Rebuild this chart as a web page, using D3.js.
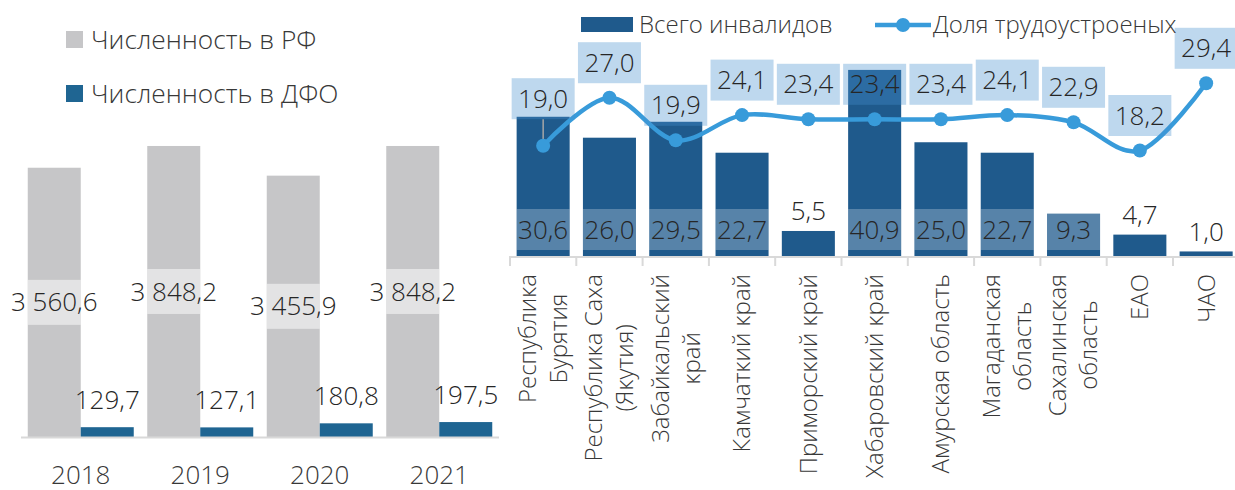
<!DOCTYPE html>
<html><head><meta charset="utf-8">
<script src="https://cdn.jsdelivr.net/npm/d3@7"></script>
<style>
html,body{margin:0;padding:0;background:#fff;}
svg text{font-family:"Open Sans",sans-serif;font-weight:300;}
</style></head>
<body>
<svg id="c" width="1235" height="490"></svg>
<script>
// ---- data ----
const years = ["2018", "2019", "2020", "2021"];
const rfValues = [3560.6, 3848.2, 3455.9, 3848.2];
const dfoValues = [129.7, 127.1, 180.8, 197.5];
const leftSeries = ["Численность в РФ", "Численность в ДФО"];

const regions = ["Республика\nБурятия", "Республика Саха\n(Якутия)", "Забайкальский\nкрай", "Камчаткий край",
  "Приморский край", "Хабаровский край", "Амурская область", "Магаданская\nобласть",
  "Сахалинская\nобласть", "ЕАО", "ЧАО"];
const totalDisabled = [30.6, 26.0, 29.5, 22.7, 5.5, 40.9, 25.0, 22.7, 9.3, 4.7, 1.0];
const employedShare = [19.0, 27.0, 19.9, 24.1, 23.4, 23.4, 23.4, 24.1, 22.9, 18.2, 29.4];
const rightSeries = ["Всего инвалидов", "Доля трудоустроеных"];

// ---- styles ----
const GRAY = "#c6c6c8", DFO = "#1f6592", BAR = "#1f5a8c", LINE = "#389bda";
const TXT = "#383838", VAL = "#262626", AXIS = "#d9d9d9";
const loc = d3.formatLocale({decimal: ",", thousands: " ", grouping: [3], currency: ["", ""]});
const fmt = loc.format(",.1f");

const svg = d3.select("#c");

// ================= LEFT CHART =================
const L = svg.append("g");
const x0 = d3.scaleBand().domain(years).range([21, 499]).paddingInner(0.113).paddingOuter(0.0565);
const x1 = d3.scaleBand().domain(leftSeries).range([0, x0.bandwidth()]);
const yL = d3.scaleLinear().domain([0, 4000]).range([437, 134.5]);

const leftData = years.map((y, i) => ({year: y, vals: [rfValues[i], dfoValues[i]]}));

const grp = L.selectAll(".grp").data(leftData).join("g")
  .attr("transform", d => `translate(${x0(d.year)},0)`);

grp.append("rect").attr("x", x1(leftSeries[0])).attr("width", x1.bandwidth())
  .attr("y", d => yL(d.vals[0])).attr("height", d => yL(0) - yL(d.vals[0])).attr("fill", GRAY);
grp.append("rect").attr("x", x1(leftSeries[1])).attr("width", x1.bandwidth())
  .attr("y", d => yL(d.vals[1])).attr("height", d => yL(0) - yL(d.vals[1])).attr("fill", DFO);

// gray value label boxes
grp.append("rect").attr("x", x1(leftSeries[0])).attr("width", x1.bandwidth())
  .attr("y", d => (yL(d.vals[0]) + yL(0)) / 2 - 22.5).attr("height", 45)
  .attr("fill", "#ffffff").attr("fill-opacity", 0.5);
grp.append("text").attr("x", x1(leftSeries[0]) + x1.bandwidth() / 2)
  .attr("y", d => (yL(d.vals[0]) + yL(0)) / 2).attr("dy", "0.35em")
  .attr("text-anchor", "middle").attr("font-size", 26).attr("fill", VAL)
  .text(d => fmt(d.vals[0]));
grp.append("text").attr("x", x1(leftSeries[1]) + x1.bandwidth() / 2)
  .attr("y", d => yL(d.vals[1]) - 27.5).attr("dy", "0.35em")
  .attr("text-anchor", "middle").attr("font-size", 26).attr("fill", VAL)
  .text(d => fmt(d.vals[1]));

// axis
const axL = L.append("g").attr("transform", `translate(0,${yL(0)})`)
  .call(d3.axisBottom(x0).tickSize(0).tickPadding(29));
axL.select(".domain").attr("stroke", AXIS).attr("stroke-width", 2).attr("d", "M21,0.5H499");
axL.selectAll("text").attr("font-size", 26).attr("fill", TXT).attr("font-family", "Open Sans").attr("font-weight", 300);

// legend
const legL = L.append("g");
leftSeries.forEach((s, i) => {
  const yy = 31 + i * 54;
  legL.append("rect").attr("x", 66).attr("y", yy).attr("width", 17).attr("height", 17)
    .attr("fill", i === 0 ? GRAY : DFO);
  legL.append("text").attr("x", 91).attr("y", yy + 8.5).attr("dy", "0.35em")
    .attr("font-size", 26.3).attr("fill", TXT).text(s);
});

// ================= RIGHT CHART =================
const R = svg.append("g");
const xR = d3.scaleBand().domain(regions).range([510, 1239.3]).paddingInner(0.2).paddingOuter(0.1);
const yR = d3.scaleLinear().domain([0, 45]).range([256, 51.25]);
const yR2 = d3.scaleLinear().domain([0, 35]).range([259.7, 49.7]);
const cx = d => xR(d) + xR.bandwidth() / 2;

const rData = regions.map((r, i) => ({r, v: totalDisabled[i], s: employedShare[i], i}));

// axis line + ticks
const step = xR.step();
const x_start = xR.range()[0];
R.append("line").attr("x1", x_start).attr("x2", 1235).attr("y1", yR(0) + 1).attr("y2", yR(0) + 1)
  .attr("stroke", AXIS).attr("stroke-width", 2);
R.selectAll(".tk").data(d3.range(regions.length + 1)).join("line")
  .attr("x1", i => x_start + i * step).attr("x2", i => x_start + i * step)
  .attr("y1", yR(0)).attr("y2", yR(0) + 10).attr("stroke", AXIS).attr("stroke-width", 2);

// bars
R.selectAll(".bar").data(rData).join("rect")
  .attr("x", d => xR(d.r)).attr("width", xR.bandwidth())
  .attr("y", d => yR(d.v)).attr("height", d => yR(0) - yR(d.v)).attr("fill", BAR);

// bar labels
const big = rData.filter(d => d.v >= 8), small = rData.filter(d => d.v < 8);
R.selectAll(".bbox").data(big).join("rect")
  .attr("x", d => xR(d.r)).attr("width", xR.bandwidth())
  .attr("y", d => Math.max(yR(0) - 47, yR(d.v))).attr("height", d => yR(0) - 6 - Math.max(yR(0) - 47, yR(d.v)))
  .attr("fill", "#ffffff").attr("fill-opacity", 0.25);
R.selectAll(".blab").data(big).join("text")
  .attr("x", d => cx(d.r)).attr("y", yR(0) - 26).attr("dy", "0.35em")
  .attr("text-anchor", "middle").attr("font-size", 26).attr("fill", VAL).text(d => fmt(d.v));
R.selectAll(".slab").data(small).join("text")
  .attr("x", d => cx(d.r)).attr("y", d => yR(d.v) - 20).attr("dy", "0.35em")
  .attr("text-anchor", "middle").attr("font-size", 26).attr("fill", VAL).text(d => fmt(d.v));

// line label geometry
const labY = d => yR2(d.s) - (d.i === 0 ? 47 : 35);
// leader line for moved label
R.selectAll(".lead").data(rData.filter(d => d.i === 0)).join("line")
  .attr("x1", d => cx(d.r)).attr("x2", d => cx(d.r))
  .attr("y1", d => labY(d) + 20.5).attr("y2", d => yR2(d.s))
  .attr("stroke", "#a6a6a6").attr("stroke-width", 1.5);

// line
const lineGen = d3.line().x(d => cx(d.r)).y(d => yR2(d.s)).curve(d3.curveCardinal.tension(0));
R.append("path").datum(rData).attr("d", lineGen).attr("fill", "none")
  .attr("stroke", LINE).attr("stroke-width", 4.5);
R.selectAll(".mk").data(rData).join("circle")
  .attr("cx", d => cx(d.r)).attr("cy", d => yR2(d.s)).attr("r", 7).attr("fill", LINE);

// line labels
R.selectAll(".lbox").data(rData).join("rect")
  .attr("x", d => cx(d.r) - 31.5).attr("width", 63)
  .attr("y", d => labY(d) - 20.5).attr("height", 41)
  .attr("fill", "rgb(68,142,207)").attr("fill-opacity", 0.35);
R.selectAll(".ltxt").data(rData).join("text")
  .attr("x", d => cx(d.r)).attr("y", d => labY(d)).attr("dy", "0.35em")
  .attr("text-anchor", "middle").attr("font-size", 26).attr("fill", VAL).text(d => fmt(d.s));

// category labels (rotated, multi-line, centered)
const topY = 274;
rData.forEach(d => {
  const lines = d.r.split("\n");
  const g = R.append("g");
  const texts = lines.map(t => g.append("text").attr("font-size", 24).attr("fill", TXT)
    .attr("text-anchor", "middle").attr("dominant-baseline", "middle").text(t));
  const lens = texts.map(t => t.node().getComputedTextLength());
  const maxLen = d3.max(lens);
  const midY = topY + maxLen / 2;
  const n = lines.length;
  texts.forEach((t, k) => {
    const xx = cx(d.r) + 2 + (k - (n - 1) / 2) * 31;
    t.attr("transform", `translate(${xx},${midY}) rotate(-90)`);
  });
});

// legend right
R.append("rect").attr("x", 581).attr("y", 17).attr("width", 52).attr("height", 15).attr("fill", BAR);
R.append("text").attr("x", 639).attr("y", 24.5).attr("dy", "0.35em").attr("font-size", 24).attr("fill", TXT).text(rightSeries[0]);
R.append("line").attr("x1", 875).attr("x2", 931).attr("y1", 25).attr("y2", 25).attr("stroke", LINE).attr("stroke-width", 4.5);
R.append("circle").attr("cx", 903).attr("cy", 25).attr("r", 7).attr("fill", LINE);
R.append("text").attr("x", 933).attr("y", 24.5).attr("dy", "0.35em").attr("font-size", 24).attr("fill", TXT).text(rightSeries[1]);
</script>
</body></html>
